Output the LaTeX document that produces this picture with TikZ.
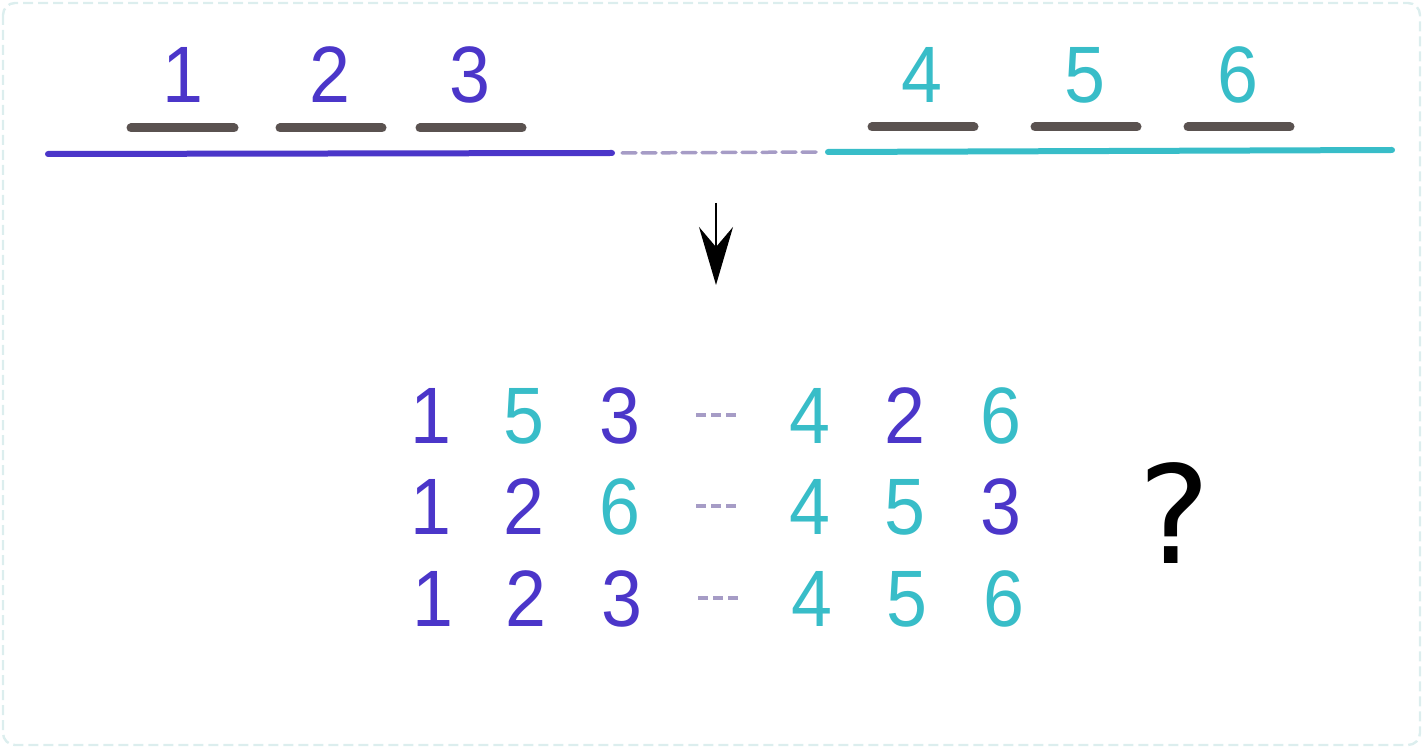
\documentclass[tikz,border=0pt]{standalone}
\usepackage{fontspec}
\setmainfont[FakeStretch=0.92]{Liberation Sans}
\newfontfamily\qmarkfont{DejaVu Sans}
\usepackage{tikz}
\usetikzlibrary{positioning}
\usetikzlibrary{arrows.meta}
\definecolor{leftcol}{HTML}{4B36C9}
\definecolor{rightcol}{HTML}{38BDC8}
\definecolor{barcol}{HTML}{5A5250}
\definecolor{gapcol}{HTML}{A69CC6}
\definecolor{framecol}{HTML}{DCEEEE}
\tikzstyle{digit}=[inner sep=0pt,font=\fontsize{40}{48}\selectfont]
\tikzstyle{lft}=[digit,text=leftcol]
\tikzstyle{rgt}=[digit,text=rightcol]
\tikzstyle{slot}=[line width=4.5pt,line cap=round,draw=barcol]
\tikzstyle{gap}=[line width=1.6pt,draw=gapcol,dash pattern=on 5pt off 2.5pt]

\begin{document}
\begin{tikzpicture}
	[x=0.5pt,y=-0.5pt]
	\useasboundingbox (0,0) rectangle (1423,748);
	\draw[framecol,line width=1.2pt,dash pattern=on 5pt off 2.5pt,rounded corners=6pt] (3,3) rectangle (1420,745);
	
	% top: the two halves
	\node (t1) [lft] at (183,75) {1};
	\node (t2) [lft] at (330,75) {2};
	\node (t3) [lft] at (470,75) {3};
	\node (t4) [rgt] at (922,75) {4};
	\node (t5) [rgt] at (1085,75) {5};
	\node (t6) [rgt] at (1238,75) {6};
	
	\draw[slot] (131,128) -- (234,128);
	\draw[slot] (280,128) -- (382,128);
	\draw[slot] (420,128) -- (522,128);
	\draw[slot] (872,127) -- (974,127);
	\draw[slot] (1035,127) -- (1137,127);
	\draw[slot] (1188,127) -- (1290,127);
	
	\coordinate (la) at (48,154);
	\coordinate (lb) at (612,153);
	\coordinate (ra) at (828,152);
	\coordinate (rb) at (1392,150);
	\draw[leftcol,line width=3pt,line cap=round] (la) -- (lb);
	\draw[gapcol,line width=1.75pt,line cap=round,dash pattern=on 7pt off 3pt] ([xshift=5pt]lb) -- ([xshift=-5pt]ra);
	\draw[rightcol,line width=3pt,line cap=round] (ra) -- (rb);
	
	\coordinate (down1) at (716,203);
	\coordinate (down2) at (716,285);
	\draw[-{Stealth[length=29pt,width=17pt,inset=10pt]},line width=1pt] (down1) -- (down2);
	
	% bottom: the shuffles
	\node (a1) [lft] at (431,416) {1};
	\node (a2) [rgt] at (524,416) {5};
	\node (a3) [lft] at (620,416) {3};
	\node (a4) [rgt] at (810,416) {4};
	\node (a5) [lft] at (905,416) {2};
	\node (a6) [rgt] at (1001,416) {6};
	\draw[gap] (696,415) -- (736,415);
	
	\node (b1) [lft] at (431,507) {1};
	\node (b2) [lft] at (524,507) {2};
	\node (b3) [rgt] at (620,507) {6};
	\node (b4) [rgt] at (810,507) {4};
	\node (b5) [rgt] at (905,507) {5};
	\node (b6) [lft] at (1001,507) {3};
	\draw[gap] (696,506) -- (736,506);
	
	\node (c1) [lft] at (433,599) {1};
	\node (c2) [lft] at (526,599) {2};
	\node (c3) [lft] at (622,599) {3};
	\node (c4) [rgt] at (812,599) {4};
	\node (c5) [rgt] at (907,599) {5};
	\node (c6) [rgt] at (1004,599) {6};
	\draw[gap] (698,598) -- (738,598);
	
	\node (q) [inner sep=0pt,font=\qmarkfont\fontsize{68}{80}\selectfont] at (1175,513) {?};
\end{tikzpicture}
\end{document}
